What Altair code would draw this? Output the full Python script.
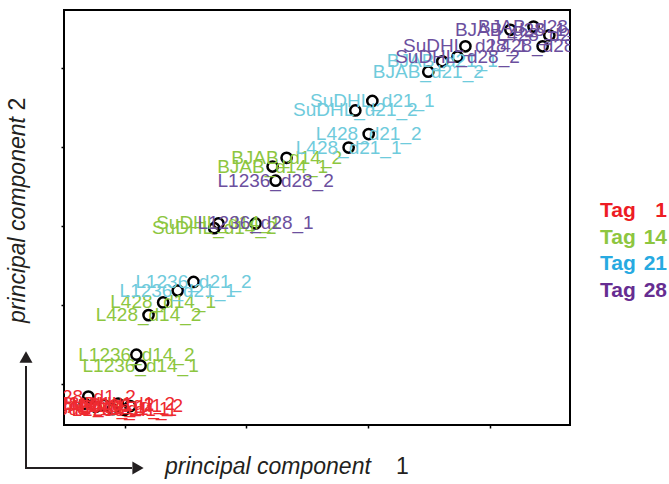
import altair as alt
import pandas as pd

# ---- data -------------------------------------------------------------
samples = [
    "L428_d1_2", "L428_d1_1", "BJAB_d1_1", "BJAB_d1_2",
    "SuDHL_d1_1", "SuDHL_d1_2", "L1236_d1_1", "L1236_d1_2",
    "BJAB_d14_1", "BJAB_d14_2", "SuDHL_d14_1", "SuDHL_d14_2",
    "L428_d14_1", "L428_d14_2", "L1236_d14_1", "L1236_d14_2",
    "BJAB_d21_1", "BJAB_d21_2", "SuDHL_d21_1", "SuDHL_d21_2",
    "L428_d21_1", "L428_d21_2", "L1236_d21_1", "L1236_d21_2",
    "BJAB_d28_1", "BJAB_d28_2", "L428_d28_1", "L428_d28_2",
    "SuDHL_d28_1", "SuDHL_d28_2", "L1236_d28_1", "L1236_d28_2",
]
sample_tags = (["Tag 1"] * 8 + ["Tag 14"] * 8 + ["Tag 21"] * 8 + ["Tag 28"] * 8)
pc1 = [
    -26.0, -26.6, -24.8, -23.4, -22.0, -21.1, -20.1, -19.1,
    4.3, 6.6, -4.6, -5.3, -13.7, -16.1, -17.4, -18.1,
    32.2, 29.9, 20.7, 17.9, 16.8, 20.1, -11.3, -8.7,
    43.4, 47.2, 49.8, 48.7, 36.0, 34.7, 1.5, 4.8,
]
pc2 = [
    -21.6, -22.5, -22.9, -22.7, -23.2, -22.5, -23.3, -22.8,
    7.5, 8.6, 0.3, -0.3, -9.7, -11.3, -17.7, -16.3,
    20.8, 19.5, 15.8, 14.6, 9.9, 11.6, -8.2, -7.1,
    24.8, 25.2, 24.1, 22.7, 22.7, 21.4, 0.3, 5.7,
]
tags = ["Tag 1", "Tag 14", "Tag 21", "Tag 28"]
tag_numbers = ["1", "14", "21", "28"]
x_ticks = [-20, 0, 20, 40]
y_ticks = [-20, -10, 0, 10, 20]

label_colors = ["#ee2a30", "#8dc63f", "#6fcbdc", "#6c4f9e"]
legend_colors = ["#ed1c24", "#8dc63f", "#27aae1", "#662d91"]

df = pd.DataFrame({"sample": samples, "tag": sample_tags, "pc1": pc1, "pc2": pc2})
legend_df = pd.DataFrame({"tag": tags, "num": tag_numbers})

FONT = "Liberation Sans"

xs = alt.Scale(domain=[-30, 53.2], nice=False, zero=False)
ys = alt.Scale(domain=[-25.2, 27.3], nice=False, zero=False)

x_axis = alt.Axis(values=x_ticks, labels=False, grid=False, domain=False,
                  ticks=True, tickSize=3, tickColor="black", tickWidth=1.5, title=None)
y_axis = alt.Axis(values=y_ticks, labels=False, grid=False, domain=False,
                  ticks=True, tickSize=3, tickColor="black", tickWidth=1.5, title=None)

base = alt.Chart(df)

points = base.mark_point(shape="circle", filled=False, color="black",
                         size=105, strokeWidth=2.5, opacity=1).encode(
    x=alt.X("pc1:Q", scale=xs, axis=x_axis),
    y=alt.Y("pc2:Q", scale=ys, axis=y_axis),
)

labels = base.mark_text(font=FONT, fontSize=19, align="center", baseline="middle",
                        clip=True).encode(
    x=alt.X("pc1:Q", scale=xs, axis=x_axis),
    y=alt.Y("pc2:Q", scale=ys, axis=y_axis),
    text="sample:N",
    color=alt.Color("tag:N", scale=alt.Scale(domain=tags, range=label_colors), legend=None),
)

main = alt.layer(points, labels)

leg_y = alt.Y("tag:N", scale=alt.Scale(type="point", domain=tags, range=[201, 281], padding=0), axis=None)
leg_color = alt.Color("tag:N", scale=alt.Scale(domain=tags, range=legend_colors), legend=None)

leg_word = alt.Chart(legend_df).mark_text(font=FONT, fontSize=21, fontWeight="bold",
                                          align="left", baseline="middle").encode(
    x=alt.value(536), y=leg_y, text=alt.value("Tag"), color=leg_color)
leg_num = alt.Chart(legend_df).mark_text(font=FONT, fontSize=21, fontWeight="bold",
                                         align="right", baseline="middle").encode(
    x=alt.value(603), y=leg_y, text="num:N", color=leg_color)

legend = alt.layer(leg_word, leg_num)

one = alt.Data(values=[{"a": 1}])
ARROW = "#231f20"
v_line = alt.Chart(one).mark_rule(color=ARROW, strokeWidth=2).encode(
    x=alt.value(-38), y=alt.value(356), y2=alt.value(459))
h_line = alt.Chart(one).mark_rule(color=ARROW, strokeWidth=2).encode(
    x=alt.value(-39), x2=alt.value(68), y=alt.value(458))
v_head = alt.Chart(one).mark_point(shape="triangle-up", filled=True, color=ARROW,
                                   size=170, opacity=1).encode(
    x=alt.value(-38), y=alt.value(347))
h_head = alt.Chart(one).mark_point(shape="triangle-right", filled=True, color=ARROW,
                                   size=170, opacity=1).encode(
    x=alt.value(74), y=alt.value(458))

x_title = alt.Chart(one).mark_text(font=FONT, fontSize=23, fontStyle="italic",
                                   align="left", baseline="middle", color="#231f20").encode(
    x=alt.value(101), y=alt.value(457), text=alt.value("principal component"))
x_title_n = alt.Chart(one).mark_text(font=FONT, fontSize=23,
                                     align="left", baseline="middle", color="#231f20").encode(
    x=alt.value(332), y=alt.value(457), text=alt.value("1"))
y_title = alt.Chart(one).mark_text(font=FONT, fontSize=23, fontStyle="italic", angle=270,
                                   align="center", baseline="middle", color="#231f20").encode(
    x=alt.value(-46), y=alt.value(210), text=alt.value("principal component"))
y_title_n = alt.Chart(one).mark_text(font=FONT, fontSize=23, angle=270,
                                     align="center", baseline="middle", color="#231f20").encode(
    x=alt.value(-46), y=alt.value(94), text=alt.value("2"))

deco = alt.layer(v_line, h_line, v_head, h_head, x_title, x_title_n, y_title, y_title_n)

chart = alt.layer(main, legend, deco).resolve_scale(
    x="independent", y="independent", color="independent"
).properties(
    width=506, height=415,
    autosize=alt.AutoSizeParams(type="none"),
    padding={"left": 64, "top": 10, "right": 99, "bottom": 59},
    background="white",
).configure_view(stroke="black", strokeWidth=2)

chart.save("out.html", embed_options={"renderer": "svg", "actions": False})
